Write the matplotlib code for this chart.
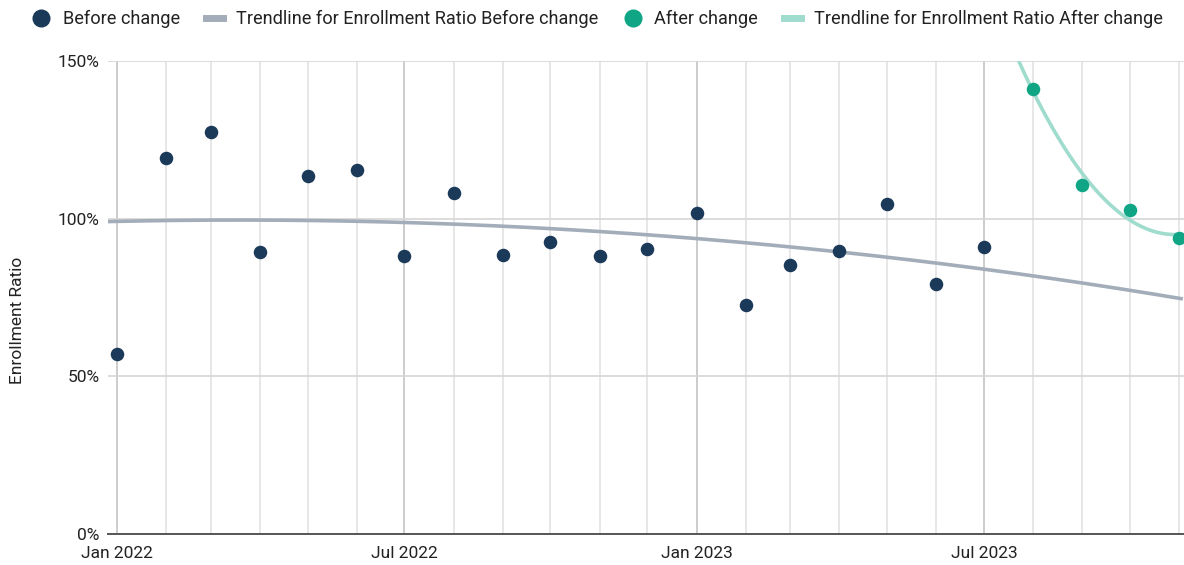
import numpy as np
import pandas as pd
import matplotlib
matplotlib.use("Agg")
import matplotlib.pyplot as plt
import matplotlib.dates as mdates
from matplotlib.lines import Line2D
from matplotlib.ticker import FuncFormatter

plt.rcParams['font.family'] = ['Roboto', 'DejaVu Sans']

# Enrollment ratio (%) by month
before_months = pd.date_range("2022-01-01", "2023-07-01", freq="MS")
before_values = [57.1, 119.2, 127.5, 89.4, 113.5, 115.4, 88.2, 108.1, 88.5, 92.6,
                 88.2, 90.4, 101.8, 72.6, 85.3, 89.8, 104.7, 79.3, 91.0]
after_months = pd.date_range("2023-08-01", "2023-11-01", freq="MS")
after_values = [141.1, 110.7, 102.8, 93.9]

c_before = "#1b3a5a"
c_before_trend = "#a3adb9"
c_after = "#10a685"
c_after_trend = "#9fdccd"

fig = plt.figure(figsize=(11.84, 5.65), dpi=100)
ax = fig.add_axes([108 / 1184, 1 - 534 / 565, 1 - 108 / 1184, (534 - 61) / 565])

x0 = pd.Timestamp("2022-01-01") - pd.Timedelta(days=5.7)
x1 = pd.Timestamp("2023-11-01") + pd.Timedelta(days=3)
ax.set_xlim(x0, x1)
ax.set_ylim(0, 150)

# monthly grid, darker at Jan / Jul
for d in pd.date_range("2022-01-01", "2023-11-01", freq="MS"):
    major = d.month in (1, 7)
    ax.axvline(d, color="#c4c4c4" if major else "#e3e3e3", lw=1.2, zorder=0)
for v in (50, 100, 150):
    ax.axhline(v, color="#d6d6d6", lw=1.2, zorder=0)

# quadratic trendlines
def trend(months, values):
    ref = pd.Timestamp("2022-01-01")
    t = np.array([(m - ref).days for m in months], dtype=float)
    coef = np.polyfit(t, values, 2)
    grid = pd.date_range(x0, x1, freq="D")
    tg = np.array([(g - ref).days for g in grid], dtype=float)
    return grid, np.polyval(coef, tg)

gx, gy = trend(before_months, before_values)
ax.plot(gx, gy, color=c_before_trend, lw=2.6, zorder=2, solid_capstyle="butt")
gx, gy = trend(after_months, after_values)
ax.plot(gx, gy, color=c_after_trend, lw=2.6, zorder=2, solid_capstyle="butt")

ax.scatter(before_months, before_values, s=95, color=c_before, zorder=3, linewidths=0, clip_on=False)
ax.scatter(after_months, after_values, s=95, color=c_after, zorder=3, linewidths=0, clip_on=False)

for s in ("top", "right", "left"):
    ax.spines[s].set_visible(False)
ax.spines["bottom"].set_color("#555555")
ax.spines["bottom"].set_linewidth(1.4)

ax.set_yticks([0, 50, 100, 150])
ax.yaxis.set_major_formatter(FuncFormatter(lambda v, p: f"{v:.0f}%"))
ax.tick_params(axis="y", length=0, pad=6, labelsize=12.5, labelcolor="#222222")
ax.set_xticks([pd.Timestamp(s) for s in ("2022-01-01", "2022-07-01", "2023-01-01", "2023-07-01")])
ax.xaxis.set_major_formatter(mdates.DateFormatter("%b %Y"))
ax.tick_params(axis="x", length=0, pad=9, labelsize=12.5, labelcolor="#222222")

fig.text(18 / 1184, 1 - 320 / 565, "Enrollment Ratio", rotation=90, ha="center", va="center",
         fontsize=12.5, color="#222222")

handles = [
    Line2D([], [], ls="none", marker="o", ms=13, color=c_before, mew=0),
    Line2D([], [], color=c_before_trend, lw=5),
    Line2D([], [], ls="none", marker="o", ms=13, color=c_after, mew=0),
    Line2D([], [], color=c_after_trend, lw=5),
]
labels = ["Before change", "Trendline for Enrollment Ratio Before change",
          "After change", "Trendline for Enrollment Ratio After change"]
fig.legend(handles, labels, loc="upper left", bbox_to_anchor=(23 / 1184, 1.0), ncol=4,
           frameon=False, fontsize=13.1, handlelength=0.9, handletextpad=0.75,
           columnspacing=1.43, labelcolor="#222222", borderaxespad=0.15)

fig.savefig("out.png", dpi=100)
